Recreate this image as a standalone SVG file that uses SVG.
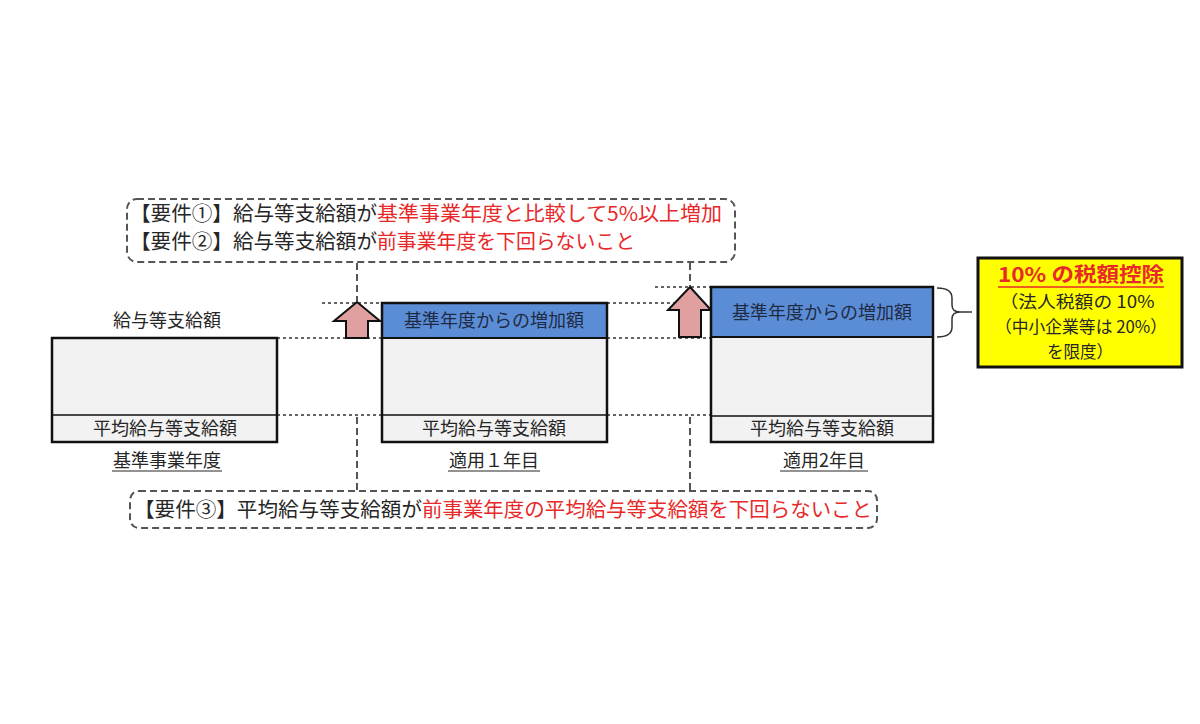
<svg xmlns="http://www.w3.org/2000/svg" width="1200" height="724" viewBox="0 0 1200 724">
<style>
text{font-family:"Noto Sans CJK JP","Noto Sans",sans-serif;fill:#262626}
.req{font-size:20px}
.red{fill:#E8292A}
.lbl{font-size:18px;text-anchor:middle}
.band{font-size:18px;text-anchor:middle;fill:#1F2A44}
.dot{stroke:#333;stroke-width:1.3;stroke-dasharray:3 3;fill:none}
.dash{stroke:#555;stroke-width:2;stroke-dasharray:7 4;fill:none}
.frame{fill:none;stroke:#111;stroke-width:2.5}
.gray{fill:#F2F2F2}
.blue{fill:#5B8DD6}
.arrow{fill:#E0A0A0;stroke:#111;stroke-width:2;stroke-linejoin:miter}
.ul{stroke:#262626;stroke-width:1.2}
.ytxt{font-size:17px;text-anchor:middle}
</style>
<rect width="1200" height="724" fill="#fff"/>

<g id="connectors">
<line class="dot" x1="277" y1="338" x2="382" y2="338"/>
<line class="dot" x1="607" y1="338" x2="711" y2="338"/>
<line class="dot" x1="277" y1="415" x2="382" y2="415"/>
<line class="dot" x1="607" y1="415" x2="711" y2="415"/>
<line class="dot" x1="322" y1="303" x2="382" y2="303"/>
<line class="dot" x1="607" y1="303" x2="683" y2="303"/>
<line class="dot" x1="655" y1="287" x2="711" y2="287"/>
<line class="dash" x1="357" y1="263" x2="357" y2="301"/>
<line class="dash" x1="690" y1="263" x2="690" y2="286"/>
<line class="dash" x1="357" y1="417" x2="357" y2="490"/>
<line class="dash" x1="690" y1="417" x2="690" y2="490"/>
<path d="M937,288 Q952,288 952,298 L952,305 Q952,312 960,312 Q952,312 952,319 L952,327 Q952,337 937,337 M960,312 L972,312" fill="none" stroke="#333" stroke-width="1.5"/>
</g>

<g id="req12">
<rect x="127" y="199" width="608" height="63" rx="10" class="dash"/>
<text class="req" x="130" y="221" textLength="247" lengthAdjust="spacingAndGlyphs">【要件①】給与等支給額が</text>
<text class="req red" x="377" y="221" textLength="345" lengthAdjust="spacingAndGlyphs">基準事業年度と比較して5%以上増加</text>
<text class="req" x="130" y="249" textLength="247" lengthAdjust="spacingAndGlyphs">【要件②】給与等支給額が</text>
<text class="req red" x="377" y="249" textLength="258" lengthAdjust="spacingAndGlyphs">前事業年度を下回らないこと</text>
</g>

<g id="req3">
<rect x="130" y="491" width="747" height="37" rx="9" class="dash"/>
<text class="req" x="134" y="517" textLength="288" lengthAdjust="spacingAndGlyphs">【要件③】平均給与等支給額が</text>
<text class="req red" x="422" y="517" textLength="450" lengthAdjust="spacingAndGlyphs">前事業年度の平均給与等支給額を下回らないこと</text>
</g>

<g id="base-year">
<text class="lbl" x="167" y="327">給与等支給額</text>
<rect x="52" y="338" width="225" height="104" class="gray"/>
<line x1="52" y1="415" x2="277" y2="415" stroke="#111" stroke-width="1.5"/>
<rect x="52" y="338" width="225" height="104" class="frame"/>
<text class="lbl" x="165" y="435">平均給与等支給額</text>
<text class="lbl" x="167" y="467">基準事業年度</text>
<line class="ul" x1="112" y1="471" x2="222" y2="471"/>
</g>

<g id="year1">
<polygon class="arrow" points="357,302 380,321 368,321 368,338 346,338 346,321 334,321"/>
<rect x="382" y="303" width="225" height="139" class="gray"/>
<rect x="382" y="303" width="225" height="35" class="blue"/>
<line x1="382" y1="338" x2="607" y2="338" stroke="#111" stroke-width="2"/>
<line x1="382" y1="415" x2="607" y2="415" stroke="#111" stroke-width="1.5"/>
<rect x="382" y="303" width="225" height="139" class="frame"/>
<text class="band" x="494" y="327">基準年度からの増加額</text>
<text class="lbl" x="494" y="435">平均給与等支給額</text>
<text class="lbl" x="494" y="467">適用１年目</text>
<line class="ul" x1="448" y1="471" x2="540" y2="471"/>
</g>

<g id="year2">
<polygon class="arrow" points="690,287 711,310 701,310 701,337 679,337 679,310 668,310"/>
<rect x="711" y="287" width="222" height="155" class="gray"/>
<rect x="711" y="287" width="222" height="50" class="blue"/>
<line x1="711" y1="337" x2="933" y2="337" stroke="#111" stroke-width="2"/>
<line x1="711" y1="416" x2="933" y2="416" stroke="#111" stroke-width="1.5"/>
<rect x="711" y="287" width="222" height="155" class="frame"/>
<text class="band" x="822" y="319">基準年度からの増加額</text>
<text class="lbl" x="822" y="435">平均給与等支給額</text>
<text class="lbl" x="824" y="467">適用2年目</text>
<line class="ul" x1="780" y1="471" x2="868" y2="471"/>
</g>

<g id="tax-credit">
<rect x="978" y="258" width="204" height="109" fill="#FFFF00" stroke="#111" stroke-width="3"/>
<text x="1081" y="282" text-anchor="middle" font-size="20" font-weight="bold" class="red" textLength="166" lengthAdjust="spacingAndGlyphs">10% の税額控除</text>
<line x1="998" y1="287" x2="1164" y2="287" stroke="#E8292A" stroke-width="1.5"/>
<text class="ytxt" x="1077" y="308" textLength="155" lengthAdjust="spacingAndGlyphs">（法人税額の 10%</text>
<text class="ytxt" x="1081" y="333" textLength="172" lengthAdjust="spacingAndGlyphs">（中小企業等は 20%）</text>
<text class="ytxt" x="1080" y="358" textLength="66" lengthAdjust="spacingAndGlyphs">を限度）</text>
</g>
</svg>
